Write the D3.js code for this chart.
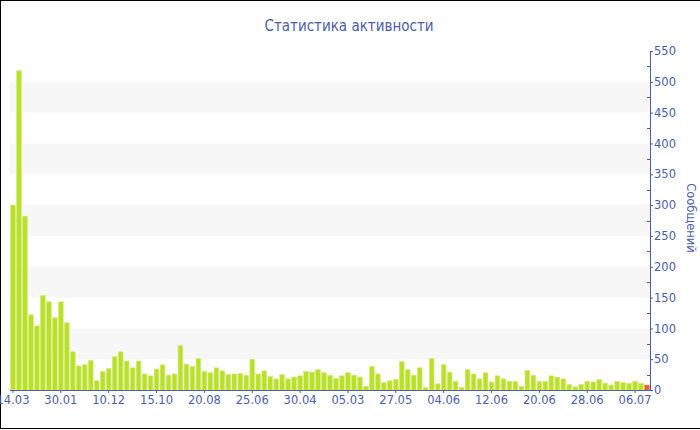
<!DOCTYPE html>
<html><head><meta charset="utf-8">
<script src="https://cdn.jsdelivr.net/npm/d3@7"></script>
<style>html,body{margin:0;padding:0;background:#fff;}svg{display:block;}</style>
</head><body>
<script>
const title = "Статистика активности";
const yTitle = "Сообщений";
const values = [300,518,282,122,104,153,143,117,143,109,62,39,41,48,15,30,35,54,62,47,36,47,26,23,34,41,24,26,72,42,38,51,30,28,36,31,25,26,27,24,50,26,31,22,18,25,18,21,23,30,29,33,28,24,19,23,28,24,21,6,38,26,12,15,17,46,33,24,36,4,51,10,41,29,14,4,33,26,18,28,13,23,18,14,14,6,32,24,14,14,23,21,18,9,5,9,14,13,17,11,8,14,12,11,14,11,8];
const tickLabels = ["14.03","30.01","10.12","15.10","20.08","25.06","30.04","05.03","27.05","04.06","12.06","20.06","28.06","06.07"];
const tickEvery = 8;
const yTicks = [0,50,100,150,200,250,300,350,400,450,500,550];
const bandRanges = [[50,100],[150,200],[250,300],[350,400],[450,500]];

const W = 700, H = 430;
const axisColor = "#4b5ea8";
const font = "DejaVu Sans, Verdana, sans-serif";
const titleFont = "DejaVu Sans Condensed, DejaVu Sans, sans-serif";

const svg = d3.select("body").append("svg").attr("width", W).attr("height", H);
svg.append("rect").attr("x",0.5).attr("y",0.5).attr("width",W).attr("height",428)
  .attr("fill","#fff").attr("stroke","#000");

const idx = d3.range(values.length);
const x = d3.scaleBand().domain(idx).range([10, 650]).paddingInner(0.21).paddingOuter(0.105);
const y = d3.scaleLinear().domain([0, 550]).range([390, 51]);

// alternating bands
svg.append("g").selectAll("rect").data(bandRanges).join("rect")
  .attr("x", 10).attr("width", 640)
  .attr("y", d => y(d[1])).attr("height", d => y(d[0]) - y(d[1]))
  .attr("fill", "#f7f7f7");

// bars
svg.append("g").selectAll("rect").data(values).join("rect")
  .attr("x", (d,i) => x(i)).attr("width", x.bandwidth())
  .attr("y", d => y(d)).attr("height", d => y(0) - y(d))
  .attr("fill", (d,i) => i === values.length - 1 ? "#e4603c" : "#bbe02c")
  .attr("stroke", (d,i) => i === values.length - 1 ? "#ef8a6c" : "#d2ec78")
  .attr("stroke-width", 0.6);

// x axis
const tickIdx = tickLabels.map((t,k) => k * tickEvery);
const xAxis = d3.axisBottom(x).tickValues(tickIdx)
  .tickFormat(i => tickLabels[i / tickEvery]).tickSize(3).tickSizeOuter(0);
const gx = svg.append("g").attr("transform", "translate(0,390)").call(xAxis);
gx.select(".domain").attr("stroke", axisColor).attr("d", "M10,0.5H650");
gx.selectAll(".tick line").attr("stroke", axisColor);
gx.selectAll(".tick text").attr("fill", axisColor).attr("font-family", font)
  .attr("font-size", 11.5).attr("dy", "0.71em").attr("y", 6);

// y axis (right)
const yAxis = d3.axisRight(y).tickValues(yTicks).tickSize(3).tickSizeOuter(0);
const gy = svg.append("g").attr("transform", "translate(650,0)").call(yAxis);
gy.select(".domain").attr("stroke", axisColor);
gy.selectAll(".tick line").attr("stroke", axisColor);
gy.selectAll(".tick text").attr("fill", axisColor).attr("font-family", font)
  .attr("font-size", 11.5).attr("x", 4);
// minor ticks
svg.append("g").selectAll("line").data(d3.range(25, 550, 50)).join("line")
  .attr("x1", 647).attr("x2", 650)
  .attr("y1", d => Math.round(y(d)) + 0.5).attr("y2", d => Math.round(y(d)) + 0.5)
  .attr("stroke", axisColor);

// titles
svg.append("text").attr("x", 349).attr("y", 31).attr("text-anchor", "middle")
  .attr("font-family", titleFont).attr("font-size", 15).attr("fill", axisColor).text(title);
svg.append("text").attr("transform", "translate(687,218) rotate(90)")
  .attr("text-anchor", "middle").attr("font-family", font).attr("font-size", 11.5)
  .attr("fill", axisColor).text(yTitle);
</script>
</body></html>
